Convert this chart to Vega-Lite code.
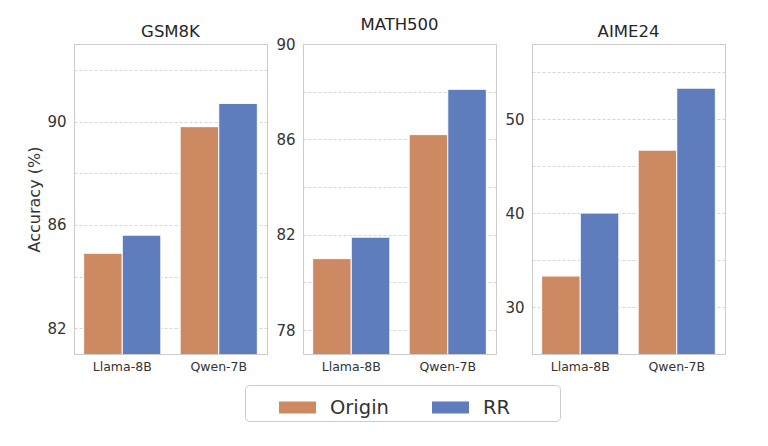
{
  "$schema": "https://vega.github.io/schema/vega-lite/v6.json",
  "padding": {"left": 26, "top": 16, "right": 5, "bottom": 5},
  "background": "white",
  "datasets": {
    "acc": [
      {"bench": "GSM8K", "model": "Llama-8B", "method": "Origin", "acc": 84.9},
      {"bench": "GSM8K", "model": "Llama-8B", "method": "RR", "acc": 85.6},
      {"bench": "GSM8K", "model": "Qwen-7B", "method": "Origin", "acc": 89.8},
      {"bench": "GSM8K", "model": "Qwen-7B", "method": "RR", "acc": 90.7},
      {"bench": "MATH500", "model": "Llama-8B", "method": "Origin", "acc": 81.0},
      {"bench": "MATH500", "model": "Llama-8B", "method": "RR", "acc": 81.9},
      {"bench": "MATH500", "model": "Qwen-7B", "method": "Origin", "acc": 86.2},
      {"bench": "MATH500", "model": "Qwen-7B", "method": "RR", "acc": 88.1},
      {"bench": "AIME24", "model": "Llama-8B", "method": "Origin", "acc": 33.3},
      {"bench": "AIME24", "model": "Llama-8B", "method": "RR", "acc": 40.0},
      {"bench": "AIME24", "model": "Qwen-7B", "method": "Origin", "acc": 46.7},
      {"bench": "AIME24", "model": "Qwen-7B", "method": "RR", "acc": 53.3}
    ]
  },
  "data": {"name": "acc"},
  "spacing": 7,
  "hconcat": [
    {
      "width": 193, "height": 310,
      "title": "GSM8K",
      "transform": [{"filter": "datum.bench == 'GSM8K'"}],
      "mark": {"type": "bar", "stroke": "white", "strokeWidth": 1, "clip": true},
      "encoding": {
        "x": {"field": "model", "type": "nominal", "title": null, "scale": {"paddingInner": 0.2, "paddingOuter": 0.1}, "axis": {"labelAngle": 0}},
        "xOffset": {"field": "method", "type": "nominal", "sort": ["Origin", "RR"], "scale": {"paddingInner": 0, "paddingOuter": 0}},
        "y": {"field": "acc", "type": "quantitative", "scale": {"domain": [81, 93], "zero": false, "nice": false},
              "axis": {"title": "Accuracy (%)", "values": [82, 84, 86, 88, 90, 92], "labelExpr": "datum.value % 4 == 2 ? datum.label : ''"}},
        "color": {"field": "method", "type": "nominal", "scale": {"domain": ["Origin", "RR"], "range": ["#CD8A62", "#5F7CBD"]},
                  "legend": {"title": " ", "titleOrient": "right", "titlePadding": 46, "orient": "none", "direction": "horizontal", "legendX": 171, "legendY": 341}}
      }
    },
    {
      "width": 193, "height": 310,
      "title": "MATH500",
      "transform": [{"filter": "datum.bench == 'MATH500'"}],
      "mark": {"type": "bar", "stroke": "white", "strokeWidth": 1, "clip": true},
      "encoding": {
        "x": {"field": "model", "type": "nominal", "title": null, "scale": {"paddingInner": 0.2, "paddingOuter": 0.1}, "axis": {"labelAngle": 0}},
        "xOffset": {"field": "method", "type": "nominal", "sort": ["Origin", "RR"], "scale": {"paddingInner": 0, "paddingOuter": 0}},
        "y": {"field": "acc", "type": "quantitative", "scale": {"domain": [77, 90], "zero": false, "nice": false},
              "axis": {"title": null, "values": [78, 80, 82, 84, 86, 88, 90], "labelExpr": "datum.value % 4 == 2 ? datum.label : ''"}},
        "color": {"field": "method", "type": "nominal", "scale": {"domain": ["Origin", "RR"], "range": ["#CD8A62", "#5F7CBD"]},
                  "legend": {"title": " ", "titleOrient": "right", "titlePadding": 46, "orient": "none", "direction": "horizontal", "legendX": 171, "legendY": 341}}
      }
    },
    {
      "width": 193, "height": 310,
      "title": "AIME24",
      "transform": [{"filter": "datum.bench == 'AIME24'"}],
      "mark": {"type": "bar", "stroke": "white", "strokeWidth": 1, "clip": true},
      "encoding": {
        "x": {"field": "model", "type": "nominal", "title": null, "scale": {"paddingInner": 0.2, "paddingOuter": 0.1}, "axis": {"labelAngle": 0}},
        "xOffset": {"field": "method", "type": "nominal", "sort": ["Origin", "RR"], "scale": {"paddingInner": 0, "paddingOuter": 0}},
        "y": {"field": "acc", "type": "quantitative", "scale": {"domain": [25, 58], "zero": false, "nice": false},
              "axis": {"title": null, "values": [30, 35, 40, 45, 50, 55], "labelExpr": "datum.value % 10 == 0 ? datum.label : ''"}},
        "color": {"field": "method", "type": "nominal", "scale": {"domain": ["Origin", "RR"], "range": ["#CD8A62", "#5F7CBD"]},
                  "legend": {"title": " ", "titleOrient": "right", "titlePadding": 46, "orient": "none", "direction": "horizontal", "legendX": 171, "legendY": 341}}
      }
    }
  ],
  "resolve": {"scale": {"color": "shared"}},
  "config": {
    "font": "DejaVu Sans",
    "view": {"stroke": "#cccccc", "strokeWidth": 1},
    "title": {"fontSize": 16.5, "fontWeight": "normal", "color": "#262626", "offset": 4, "font": "DejaVu Sans"},
    "axis": {
      "domain": false, "ticks": false, "tickSize": 0,
      "labelColor": "#333333", "labelFont": "DejaVu Sans",
      "titleColor": "#333333", "titleFont": "DejaVu Sans", "titleFontSize": 16, "titleFontWeight": "normal",
      "gridColor": "#cccccc", "gridDash": [3, 2], "gridWidth": 0.8
    },
    "axisY": {"labelFontSize": 15, "labelPadding": 8, "titlePadding": 4},
    "axisX": {"labelFontSize": 12.5, "labelPadding": 6, "grid": false},
    "legend": {
      "symbolType": "M-1,-0.32H1V0.32H-1Z", "symbolSize": 1369, "symbolStrokeWidth": 0,
      "labelFontSize": 19.5, "labelColor": "#333333", "labelFont": "DejaVu Sans", "labelOffset": 14,
      "columnPadding": 13, "symbolOffset": 30, "padding": 4,
      "titleFontSize": 12,
      "strokeColor": "#cccccc", "cornerRadius": 4, "gridAlign": "all"
    }
  }
}
